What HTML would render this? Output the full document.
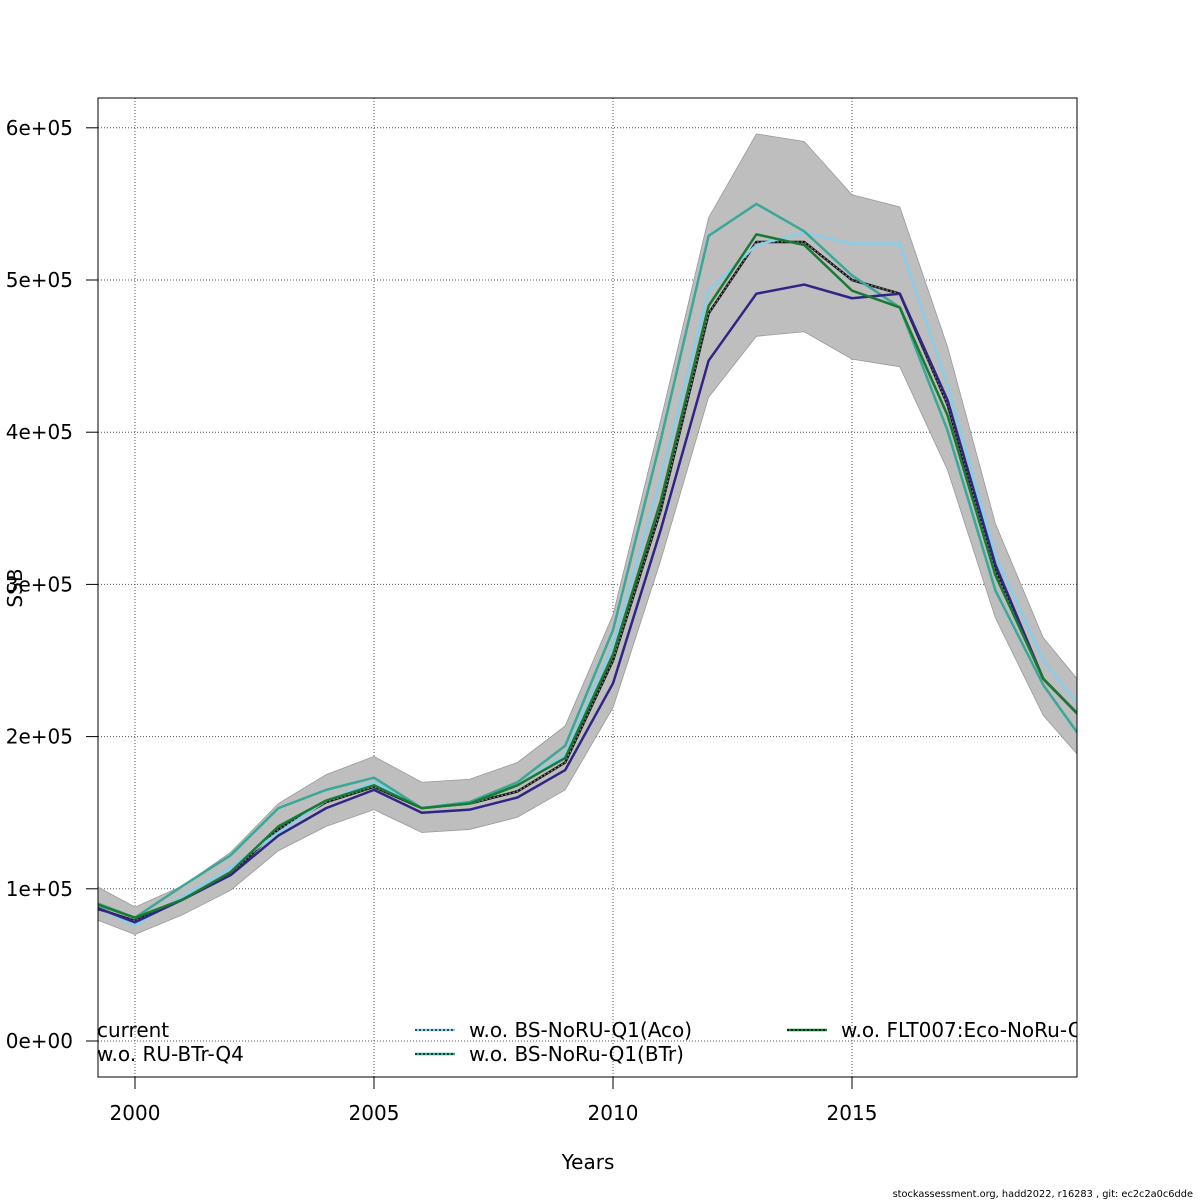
<!DOCTYPE html>
<html><head><meta charset="utf-8"><style>
html,body{margin:0;padding:0;background:#fff;}
svg{display:block;font-family:"DejaVu Sans","Liberation Sans",sans-serif;}
</style></head><body>
<svg id="chart" width="1200" height="1200" viewBox="0 0 1200 1200">
<defs><clipPath id="pc"><rect x="98" y="98" width="979" height="979"/></clipPath></defs>
<g id="grid"></g>
<g id="plot" clip-path="url(#pc)"></g>
<rect x="98" y="98" width="979" height="979" fill="none" stroke="#000" stroke-width="1"/>
<g id="axes"></g>
<text x="588" y="1169" text-anchor="middle" font-size="20">Years</text>
<text transform="translate(22,588) rotate(-90)" text-anchor="middle" font-size="20">SSB</text>
<text x="1193" y="1197" text-anchor="end" font-size="9.8">stockassessment.org, hadd2022, r16283 , git: ec2c2a0c6dde</text>
</svg>
<script>
const years=[1999,2000,2001,2002,2003,2004,2005,2006,2007,2008,2009,2010,2011,2012,2013,2014,2015,2016,2017,2018,2019,2020];
const bandUpper=[105,88,102,124,156,175,187,170,172,183,207,280,408,541,596,591,556,548,456,340,265,227];
const bandLower=[82,70,83,99,125,141,152,137,139,147,165,219,316,423,463,466,448,443,375,278,214,178];
const current=[89,79,93,110,139,157,167,153,156,164,183,250,349,478,525,525,500,491,418,309,238,206];
const woRUBTrQ4=[90,78,93,109,135,153,165,150,152,160,178,235,336,447,491,497,488,491,421,313,238,206];
const woAco=[91,76,95,114,137,158,170,153,156,168,188,260,369,493,523,531,524,524,431,319,250,211];
const woBTr=[93,81,102,122,153,165,173,153,157,170,194,270,395,529,550,532,503,482,401,296,234,190];
const woFLT=[92,81,93,111,141,158,168,153,156,168,186,254,355,483,530,523,493,482,411,306,238,206];
const yTicks=[0,1,2,3,4,5,6];
const yTickLabels=["0e+00","1e+05","2e+05","3e+05","4e+05","5e+05","6e+05"];
const xTicks=[2000,2005,2010,2015];

const NS="http://www.w3.org/2000/svg";
function X(yr){return 135+(yr-2000)*47.8;}
function Y(k){return 1041-k*1.522;}
function mk(tag,attrs,parent){const e=document.createElementNS(NS,tag);for(const k in attrs)e.setAttribute(k,attrs[k]);parent.appendChild(e);return e;}
const grid=document.getElementById('grid'),plot=document.getElementById('plot'),axes=document.getElementById('axes');

yTicks.forEach((t,i)=>{
  const y=Y(t*100);
  const g=mk('line',{x1:98,x2:1077,y1:y,y2:y,stroke:'#555','stroke-width':1,'stroke-dasharray':'1,2'},grid);
  
  
  const tk=mk('line',{x1:86,x2:98,y1:y,y2:y,stroke:'#000'},axes);
  
  
  const tx=mk('text',{x:73,y:y+7,'text-anchor':'end','font-size':20},axes);
  tx.textContent=yTickLabels[i];
  
  
});
xTicks.forEach(t=>{
  const x=X(t);
  const g=mk('line',{x1:x,x2:x,y1:98,y2:1077,stroke:'#555','stroke-width':1,'stroke-dasharray':'1,2'},grid);
  
  
  const tk=mk('line',{x1:x,x2:x,y1:1077,y2:1089,stroke:'#000'},axes);
  
  
  const tx=mk('text',{x:x,y:1120,'text-anchor':'middle','font-size':20},axes);
  tx.textContent=String(t);
  
  
});

let d='M'+years.map((yr,i)=>X(yr)+','+Y(bandUpper[i])).join('L');
for(let i=years.length-1;i>=0;i--)d+='L'+X(years[i])+','+Y(bandLower[i]);
const band=mk('path',{d:d+'Z',fill:'#bebebe',stroke:'#999','stroke-width':0.8},plot);



function line(vals,color,name,dash){
  const p=mk('polyline',{points:years.map((yr,i)=>X(yr)+','+Y(vals[i])).join(' '),fill:'none',stroke:color,'stroke-width':2.5,'stroke-linejoin':'round'},plot);
  
  
  if(dash){const q=mk('polyline',{points:years.map((yr,i)=>X(yr)+','+Y(vals[i])).join(' '),fill:'none',stroke:'#888','stroke-width':1.2,'stroke-dasharray':'2,2'},plot);
    
    }
}
line(current,'#111','line-current',true);
line(woAco,'#87ceeb','line-wo-bs-noru-q1-aco');
line(woBTr,'#3aa896','line-wo-bs-noru-q1-btr');
line(woRUBTrQ4,'#2f2585','line-wo-ru-btr-q4');
line(woFLT,'#197a32','line-wo-flt007');

const legend=[
 {x:43,y:1030,c:'#111',t:'current'},
 {x:43,y:1054,c:'#2f2585',t:'w.o. RU-BTr-Q4'},
 {x:415,y:1030,c:'#87ceeb',t:'w.o. BS-NoRU-Q1(Aco)'},
 {x:415,y:1054,c:'#3aa896',t:'w.o. BS-NoRu-Q1(BTr)'},
 {x:787,y:1030,c:'#197a32',t:'w.o. FLT007:Eco-NoRu-Q1'}
];
legend.forEach(L=>{
  const g=mk('g',{},plot);
  
  
  mk('line',{x1:L.x,x2:L.x+40,y1:L.y,y2:L.y,stroke:L.c,'stroke-width':2.5},g);
  mk('line',{x1:L.x,x2:L.x+40,y1:L.y,y2:L.y,stroke:'#000','stroke-width':1.2,'stroke-dasharray':'2,2'},g);
  const t=mk('text',{x:L.x+54,y:L.y+7,'font-size':20},g);
  t.textContent=L.t;
});
</script>
</body></html>
